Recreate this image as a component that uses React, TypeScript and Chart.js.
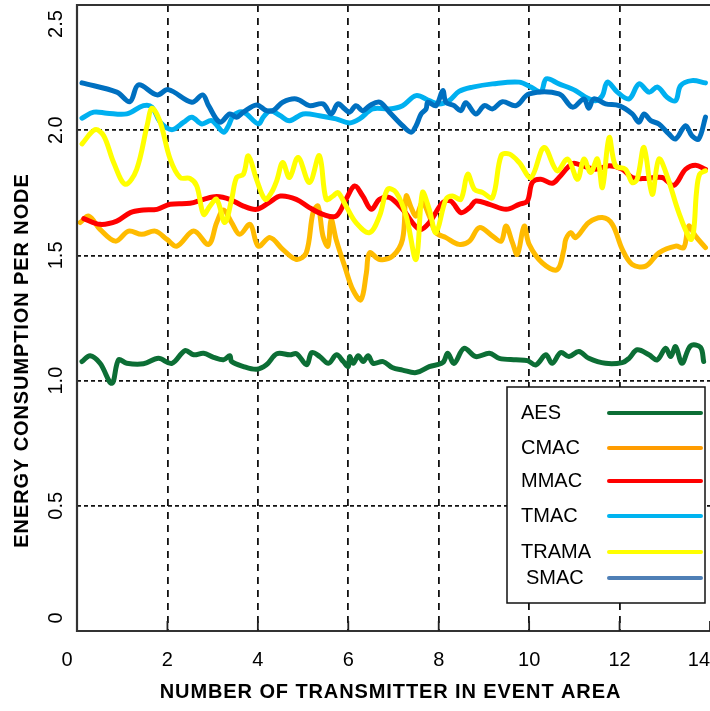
import React, { useEffect, useRef } from "react";
import { Chart, registerables } from "chart.js";

Chart.register(...registerables);

// ---- Data ----
const X_TICKS = [0, 2, 4, 6, 8, 10, 12, 14];
const X_TICK_LABELS = ["0", "2", "4", "6", "8", "10", "12", "14"];
const Y_TICKS = [0, 0.5, 1.0, 1.5, 2.0, 2.5];
const Y_TICK_LABELS = ["0", "0.5", "1.0", "1.5", "2.0", "2.5"];
const X_TITLE = "NUMBER OF TRANSMITTER IN EVENT AREA";
const Y_TITLE = "ENERGY CONSUMPTION PER NODE";
const SERIES_NAMES = ["AES", "CMAC", "MMAC", "TMAC", "TRAMA", "SMAC"];

const AES: [number, number][] = [
  [0.11, 1.076], [0.29, 1.099], [0.51, 1.069], [0.77, 0.989], [0.92, 1.083], [1.10, 1.069],
  [1.47, 1.067], [1.80, 1.089], [2.10, 1.069], [2.39, 1.120], [2.58, 1.103], [2.80, 1.109],
  [3.02, 1.093], [3.24, 1.083], [3.38, 1.099], [3.42, 1.076], [3.68, 1.056], [3.97, 1.045],
  [4.19, 1.063], [4.42, 1.107], [4.71, 1.103], [4.86, 1.107], [5.08, 1.063], [5.19, 1.112],
  [5.37, 1.096], [5.56, 1.069], [5.74, 1.103], [5.89, 1.076], [6.00, 1.056], [6.03, 1.096],
  [6.11, 1.069], [6.22, 1.099], [6.33, 1.076], [6.44, 1.099], [6.55, 1.069], [6.77, 1.076],
  [6.97, 1.052], [7.20, 1.042], [7.50, 1.032], [7.79, 1.056], [8.09, 1.072], [8.20, 1.109],
  [8.34, 1.069], [8.56, 1.129], [8.82, 1.096], [9.12, 1.109], [9.34, 1.089], [9.71, 1.083],
  [9.96, 1.080], [10.15, 1.063], [10.37, 1.103], [10.51, 1.069], [10.70, 1.112], [10.88, 1.096],
  [11.10, 1.116], [11.32, 1.089], [11.69, 1.069], [12.06, 1.072], [12.21, 1.089], [12.39, 1.123],
  [12.65, 1.103], [12.83, 1.083], [13.02, 1.129], [13.13, 1.096], [13.24, 1.136], [13.38, 1.069],
  [13.57, 1.139], [13.79, 1.133], [13.86, 1.076],
];

const CMAC: [number, number][] = [
  [0.07, 1.631], [0.26, 1.657], [0.51, 1.604], [0.85, 1.557], [1.14, 1.597], [1.43, 1.584],
  [1.73, 1.597], [1.99, 1.564], [2.21, 1.537], [2.58, 1.597], [2.91, 1.544], [3.09, 1.631],
  [3.24, 1.681], [3.42, 1.631], [3.60, 1.584], [3.83, 1.624], [4.01, 1.537], [4.27, 1.571],
  [4.55, 1.524], [4.85, 1.484], [5.07, 1.510], [5.22, 1.671], [5.33, 1.697], [5.44, 1.577],
  [5.55, 1.537], [5.62, 1.644], [5.73, 1.564], [5.92, 1.457], [6.10, 1.363], [6.28, 1.323],
  [6.40, 1.430], [6.47, 1.510], [6.69, 1.484], [6.98, 1.497], [7.20, 1.564], [7.28, 1.737],
  [7.39, 1.691], [7.50, 1.657], [7.64, 1.711], [7.79, 1.657], [7.94, 1.591], [8.16, 1.571],
  [8.45, 1.544], [8.68, 1.557], [8.90, 1.611], [9.19, 1.577], [9.38, 1.557], [9.49, 1.617],
  [9.63, 1.551], [9.74, 1.504], [9.89, 1.617], [10.0, 1.544], [10.29, 1.470], [10.62, 1.443],
  [10.77, 1.524], [10.81, 1.564], [10.92, 1.591], [11.03, 1.571], [11.32, 1.631], [11.62, 1.651],
  [11.84, 1.624], [12.06, 1.524], [12.28, 1.464], [12.58, 1.457], [12.87, 1.510], [13.24, 1.537],
  [13.42, 1.531], [13.53, 1.617], [13.68, 1.577], [13.90, 1.531],
];

const MMAC: [number, number][] = [
  [0.15, 1.647], [0.51, 1.624], [0.88, 1.637], [1.18, 1.671], [1.47, 1.681], [1.77, 1.684],
  [2.06, 1.704], [2.50, 1.708], [2.80, 1.724], [3.09, 1.735], [3.38, 1.724], [3.68, 1.697],
  [3.97, 1.684], [4.24, 1.710], [4.50, 1.737], [4.85, 1.724], [5.14, 1.691], [5.44, 1.664],
  [5.73, 1.657], [5.95, 1.724], [6.14, 1.777], [6.32, 1.737], [6.51, 1.684], [6.69, 1.724],
  [6.91, 1.731], [7.20, 1.684], [7.57, 1.604], [7.79, 1.631], [8.09, 1.711], [8.27, 1.717],
  [8.49, 1.671], [8.68, 1.690], [8.82, 1.717], [9.12, 1.704], [9.49, 1.684], [9.78, 1.704],
  [9.96, 1.717], [10.07, 1.791], [10.26, 1.804], [10.51, 1.788], [10.66, 1.811], [10.96, 1.867],
  [11.18, 1.858], [11.47, 1.844], [11.77, 1.858], [12.06, 1.844], [12.28, 1.811], [12.58, 1.807],
  [12.94, 1.811], [13.20, 1.780], [13.46, 1.844], [13.68, 1.860], [13.90, 1.844],
];

const TMAC: [number, number][] = [
  [0.11, 2.048], [0.37, 2.072], [0.66, 2.068], [1.10, 2.065], [1.47, 2.098], [1.66, 2.092],
  [1.84, 2.032], [2.10, 2.002], [2.36, 2.032], [2.54, 2.052], [2.76, 2.025], [2.98, 2.038],
  [3.24, 1.992], [3.35, 2.018], [3.46, 2.058], [3.68, 2.072], [4.01, 2.025], [4.12, 2.052],
  [4.27, 2.078], [4.48, 2.060], [4.70, 2.038], [5.00, 2.065], [5.36, 2.058], [5.73, 2.045],
  [6.03, 2.029], [6.25, 2.045], [6.54, 2.085], [6.91, 2.085], [7.20, 2.098], [7.50, 2.138],
  [7.79, 2.118], [8.01, 2.105], [8.23, 2.118], [8.45, 2.155], [8.75, 2.172], [9.19, 2.185],
  [9.78, 2.192], [10.04, 2.172], [10.26, 2.154], [10.38, 2.205], [10.66, 2.185], [11.03, 2.158],
  [11.25, 2.132], [11.47, 2.118], [11.62, 2.138], [11.73, 2.192], [11.95, 2.152], [12.21, 2.125],
  [12.43, 2.185], [12.65, 2.152], [12.84, 2.172], [13.05, 2.132], [13.24, 2.118], [13.35, 2.178],
  [13.60, 2.198], [13.90, 2.189],
];

const TRAMA: [number, number][] = [
  [0.11, 1.945], [0.40, 2.002], [0.59, 1.978], [0.81, 1.871], [1.07, 1.784], [1.32, 1.844],
  [1.55, 2.018], [1.66, 2.088], [1.84, 2.032], [2.06, 1.885], [2.28, 1.811], [2.50, 1.807],
  [2.65, 1.777], [2.80, 1.664], [2.94, 1.697], [3.09, 1.724], [3.27, 1.631], [3.42, 1.724],
  [3.53, 1.811], [3.68, 1.824], [3.79, 1.898], [3.97, 1.804], [4.16, 1.724], [4.30, 1.751],
  [4.42, 1.800], [4.55, 1.871], [4.70, 1.811], [4.89, 1.891], [5.14, 1.791], [5.36, 1.898],
  [5.51, 1.724], [5.66, 1.737], [5.77, 1.751], [5.95, 1.697], [6.17, 1.631], [6.47, 1.591],
  [6.69, 1.657], [6.87, 1.764], [7.06, 1.751], [7.28, 1.657], [7.50, 1.484], [7.64, 1.751],
  [7.79, 1.684], [7.94, 1.591], [8.16, 1.724], [8.31, 1.737], [8.49, 1.724], [8.64, 1.824],
  [8.79, 1.764], [8.97, 1.751], [9.19, 1.731], [9.38, 1.898], [9.56, 1.905], [9.78, 1.871],
  [10.04, 1.811], [10.33, 1.931], [10.62, 1.838], [10.85, 1.885], [11.07, 1.804], [11.21, 1.885],
  [11.36, 1.831], [11.51, 1.885], [11.62, 1.771], [11.77, 1.971], [11.91, 1.858], [12.13, 1.844],
  [12.28, 1.791], [12.39, 1.804], [12.54, 1.931], [12.72, 1.744], [12.87, 1.885], [13.05, 1.818],
  [13.31, 1.671], [13.57, 1.564], [13.64, 1.600], [13.70, 1.750], [13.77, 1.824], [13.90, 1.838],
];

const SMAC: [number, number][] = [
  [0.11, 2.189], [0.88, 2.152], [1.17, 2.114], [1.36, 2.181], [1.77, 2.141], [2.02, 2.162],
  [2.54, 2.112], [2.78, 2.141], [2.91, 2.098], [3.16, 2.032], [3.38, 2.065], [3.53, 2.052],
  [3.68, 2.072], [3.97, 2.101], [4.19, 2.078], [4.35, 2.080], [4.55, 2.112], [4.85, 2.125],
  [5.14, 2.098], [5.44, 2.105], [5.62, 2.065], [5.77, 2.105], [5.92, 2.085], [6.03, 2.072],
  [6.17, 2.098], [6.32, 2.078], [6.47, 2.098], [6.69, 2.112], [6.91, 2.072], [7.20, 2.018],
  [7.39, 1.992], [7.50, 2.018], [7.61, 2.065], [7.72, 2.085], [7.76, 2.112], [7.94, 2.098],
  [8.09, 2.158], [8.16, 2.112], [8.34, 2.098], [8.49, 2.078], [8.60, 2.110], [8.82, 2.065],
  [9.01, 2.098], [9.19, 2.085], [9.41, 2.114], [9.71, 2.098], [10.0, 2.145], [10.66, 2.145],
  [10.96, 2.092], [11.21, 2.125], [11.32, 2.088], [11.43, 2.125], [11.69, 2.105], [11.99, 2.098],
  [12.28, 2.065], [12.43, 2.032], [12.54, 2.065], [12.69, 2.038], [12.87, 2.025], [13.09, 1.985],
  [13.24, 1.965], [13.46, 2.018], [13.60, 1.978], [13.75, 1.965], [13.90, 2.052],
];

const SERIES_DATA = [AES, CMAC, MMAC, TMAC, TRAMA, SMAC];

// ---- Styles ----
const LINE_COLORS = ["#0c6e35", "#ffbb00", "#ff0000", "#00b0f0", "#ffff00", "#0070c0"];
const LEGEND_COLORS = ["#0c6e35", "#ff9c00", "#ff0000", "#00b4f0", "#ffff00", "#4f7fb6"];
const DRAW_ORDER = [5, 4, 3, 2, 1, 0]; // lower = on top
const FONT = "'Liberation Sans', Arial, Helvetica, sans-serif";

const decorPlugin = {
  id: "decor",
  afterDraw(chart: any) {
    const { ctx, chartArea, scales } = chart;
    const { left, right, top, bottom } = chartArea;
    const xs = scales.x;
    const ys = scales.y;
    ctx.save();

    // frame: left, top, bottom
    ctx.strokeStyle = "#333";
    ctx.lineWidth = 2.2;
    ctx.beginPath();
    ctx.moveTo(right, top);
    ctx.lineTo(left, top);
    ctx.lineTo(left, bottom);
    ctx.lineTo(right, bottom);
    ctx.stroke();

    // inward ticks on bottom
    ctx.lineWidth = 1.8;
    ctx.strokeStyle = "#222";
    X_TICKS.forEach((v) => {
      if (v === X_TICKS[0]) return;
      const px = xs.getPixelForValue(v);
      ctx.beginPath();
      ctx.moveTo(px, bottom);
      ctx.lineTo(px, bottom - 10);
      ctx.stroke();
    });

    // x tick labels
    ctx.fillStyle = "#000";
    ctx.font = `20px ${FONT}`;
    ctx.textAlign = "center";
    ctx.textBaseline = "middle";
    const W = chart.width;
    X_TICKS.forEach((v, i) => {
      const label = X_TICK_LABELS[i];
      const w = ctx.measureText(label).width;
      let px = xs.getPixelForValue(v);
      if (i === 0) px -= 10;
      px = Math.min(px, W - w / 2);
      ctx.fillText(label, px, bottom + 29);
    });

    // y tick labels (rotated)
    Y_TICKS.forEach((v, i) => {
      let py = ys.getPixelForValue(v);
      py = Math.max(top + 19, Math.min(bottom - 13, py));
      ctx.save();
      ctx.translate(left - 21, py);
      ctx.rotate(-Math.PI / 2);
      ctx.fillText(Y_TICK_LABELS[i], 0, 0);
      ctx.restore();
    });

    // axis titles
    ctx.font = `bold 20px ${FONT}`;
    (ctx as any).letterSpacing = "0.9px";
    ctx.fillText(X_TITLE, (left + right) / 2 - 3, bottom + 61);
    ctx.save();
    ctx.translate(22, chart.height / 2 + 5);
    ctx.rotate(-Math.PI / 2);
    ctx.fillText(Y_TITLE, 0, 0);
    ctx.restore();
    (ctx as any).letterSpacing = "0px";

    // legend box
    const bx = right - 203;
    const by = bottom - 244;
    const bw = 198;
    const bh = 216;
    ctx.fillStyle = "#fff";
    ctx.fillRect(bx, by, bw, bh);
    ctx.strokeStyle = "#111";
    ctx.lineWidth = 1.5;
    ctx.strokeRect(bx, by, bw, bh);
    const rowY = [26, 61, 94, 129, 165, 191];
    ctx.font = `20px ${FONT}`;
    ctx.textAlign = "left";
    ctx.lineCap = "round";
    SERIES_NAMES.forEach((name, i) => {
      const y = by + rowY[i];
      ctx.fillStyle = "#000";
      ctx.fillText(name, bx + 14 + (i === 5 ? 5 : 0), y);
      ctx.strokeStyle = LEGEND_COLORS[i];
      ctx.lineWidth = 4;
      ctx.beginPath();
      ctx.moveTo(bx + 102, y);
      ctx.lineTo(bx + 194, y);
      ctx.stroke();
    });

    ctx.restore();
  },
};

export default function App() {
  const canvasRef = useRef<HTMLCanvasElement | null>(null);

  useEffect(() => {
    const canvas = canvasRef.current;
    if (!canvas) return;
    const datasets = SERIES_NAMES.map((name, i) => ({
      label: name,
      data: SERIES_DATA[i].map(([x, y]) => ({ x, y })),
      borderColor: LINE_COLORS[i],
      backgroundColor: LINE_COLORS[i],
      borderWidth: 5,
      pointRadius: 0,
      pointHoverRadius: 0,
      tension: 0.35,
      fill: false,
      order: DRAW_ORDER[i],
      borderCapStyle: "round" as const,
      borderJoinStyle: "round" as const,
    }));

    const chart = new Chart(canvas, {
      type: "line",
      data: { datasets },
      options: {
        responsive: false,
        maintainAspectRatio: false,
        animation: false,
        layout: { padding: { top: 5, right: 0, bottom: 0, left: 0 } },
        plugins: {
          legend: { display: false },
          tooltip: { enabled: false },
        },
        scales: {
          x: {
            type: "linear",
            min: X_TICKS[0],
            max: X_TICKS[X_TICKS.length - 1],
            afterFit: (s: any) => {
              s.height = 80;
            },
            afterBuildTicks: (s: any) => {
              s.ticks = X_TICKS.map((v) => ({ value: v }));
            },
            ticks: { display: false },
            grid: {
              drawTicks: false,
              lineWidth: 1.8,
              color: (c: any) =>
                c.tick && c.tick.value > X_TICKS[0] && c.tick.value < X_TICKS[X_TICKS.length - 1]
                  ? "#111"
                  : "rgba(0,0,0,0)",
            },
            border: { display: false, dash: [7, 6] },
          },
          y: {
            type: "linear",
            min: Y_TICKS[0],
            max: Y_TICKS[Y_TICKS.length - 1],
            afterFit: (s: any) => {
              s.width = 77;
            },
            afterBuildTicks: (s: any) => {
              s.ticks = Y_TICKS.map((v) => ({ value: v }));
            },
            ticks: { display: false },
            grid: {
              drawTicks: false,
              lineWidth: 1.8,
              color: (c: any) =>
                c.tick && c.tick.value > Y_TICKS[0] && c.tick.value < Y_TICKS[Y_TICKS.length - 1]
                  ? "#111"
                  : "rgba(0,0,0,0)",
            },
            border: { display: false, dash: [4, 3] },
          },
        },
      },
      plugins: [decorPlugin],
    } as any);

    return () => chart.destroy();
  }, []);

  return (
    <div style={{ position: "fixed", left: 0, top: 0, width: 710, height: 711, background: "#fff" }}>
      <canvas ref={canvasRef} width={710} height={711} style={{ display: "block" }} />
    </div>
  );
}
